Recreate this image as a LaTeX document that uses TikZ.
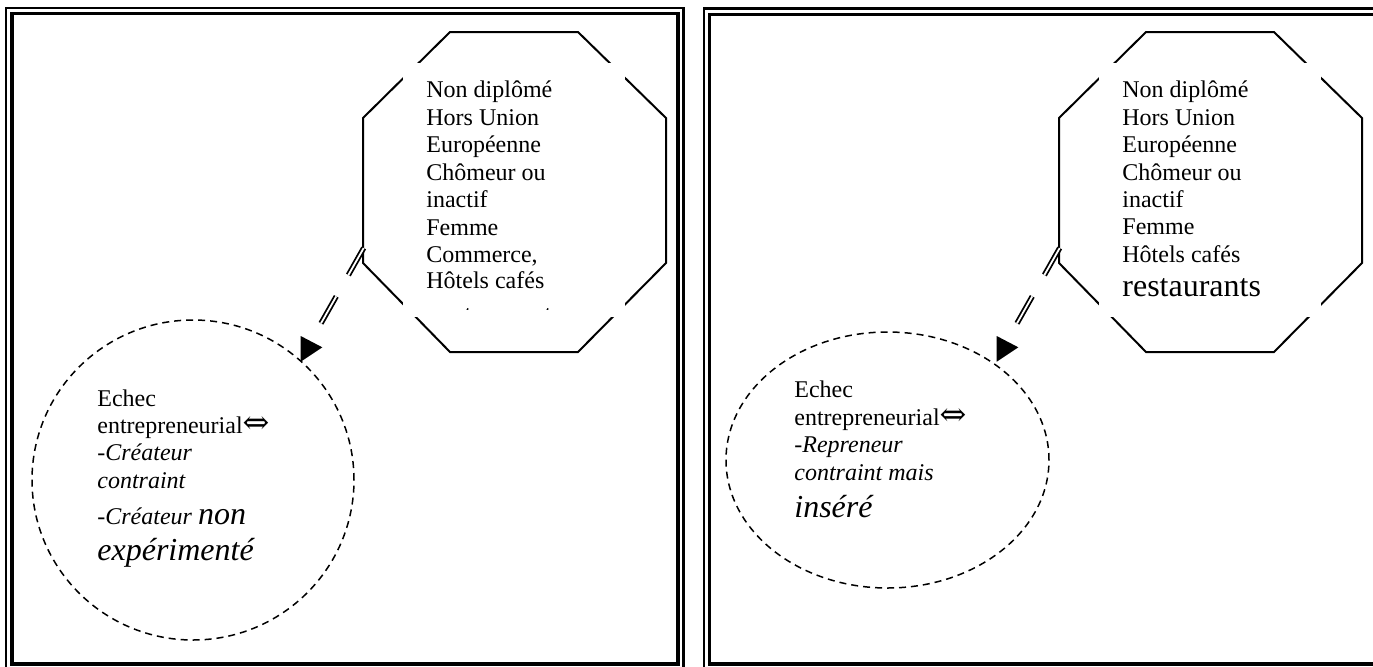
\documentclass[tikz,border=0pt]{standalone}
\usepackage{fontspec}
\setmainfont{Liberation Serif}
\newfontfamily\symf{DejaVu Serif}
\usetikzlibrary{shapes.geometric}
\newcommand\eqvsym{{\symf\fontsize{16}{16}\selectfont ⇔}}
\begin{document}
\begin{tikzpicture}[x=0.5pt,y=-0.5pt,
  frameout/.style={line width=1.1pt},
  framein/.style={line width=1.6pt},
  octa/.style={line width=1pt},
  ln/.style={anchor=base west, inner sep=0pt, font=\fontsize{12}{14}\selectfont},
  lnbig/.style={ln, font=\fontsize{16}{19}\selectfont},
  bubble/.style={draw, ellipse, inner sep=0pt, dash pattern=on 3.5pt off 2.5pt, line width=0.75pt},
  link/.style={draw, double, line width=0.9pt, double distance=0.9pt, dash pattern=on 15.5pt off 12.3pt},
  head/.style={fill=black}
]
\clip (0,0) rectangle (1373,666);
% frames
\draw[frameout] (6,8) rectangle (683.5,670);
\draw[framein] (12,13.8) rectangle (678,664);
\draw[frameout] (704,8.5) rectangle (1381,670);
\draw[framein] (709.5,14.3) rectangle (1376,664);

% ---------- left panel ----------
\draw[octa] (450,32) -- (578,32) -- (666,118) -- (666,263) -- (578,352) -- (450,352) -- (363,263) -- (363,118) -- cycle;
\fill[white] (403,63) rectangle (625,317);
\begin{scope}
\clip (403,63) rectangle (625,309);
\node[ln] (l1) at (426,97) {Non diplômé};
\node[ln] (l2) at (426,125) {Hors Union};
\node[ln] (l3) at (426,152) {Européenne};
\node[ln] (l4) at (426,180) {Chômeur ou};
\node[ln] (l5) at (426,207) {inactif};
\node[ln] (l6) at (426,235) {Femme};
\node[ln] (l7) at (426,262) {Commerce,};
\node[ln] (l8) at (426,288) {Hôtels cafés};
\node[lnbig] (l9) at (426,326) {restaurants};
\end{scope}

\node[bubble, minimum width=161pt, minimum height=160pt] (e1) at (193,480) {};
\node[ln] (m1) at (97,406) {Echec};
\node[ln] (m2) at (97,433) {entrepreneurial\eqvsym};
\node[ln] (m3) at (97,460) {\itshape -Créateur};
\node[ln] (m4) at (97,488) {\itshape contraint};
\node[ln] (m5) at (97,524) {\itshape -Créateur {\fontsize{16}{19}\selectfont non}};
\node[lnbig] (m6) at (97,560) {\itshape expérimenté};

\coordinate (c1s) at (363.7,248);
\coordinate (c1e) at (321,323.3);
\draw[link] (c1s) -- (c1e);
\coordinate (h1a) at (300.7,336);
\coordinate (h1b) at (322.3,347.3);
\coordinate (h1c) at (300.7,361.7);
\fill[head] (h1a) -- (h1b) -- (h1c) -- cycle;

% ---------- right panel ----------
\draw[octa] (1146,32) -- (1274,32) -- (1362,118) -- (1362,263) -- (1274,352) -- (1146,352) -- (1059,263) -- (1059,118) -- cycle;
\fill[white] (1099,63) rectangle (1321,317);
\begin{scope}
\clip (1099,63) rectangle (1321,310);
\node[ln] (r1) at (1122,97) {Non diplômé};
\node[ln] (r2) at (1122,125) {Hors Union};
\node[ln] (r3) at (1122,152) {Européenne};
\node[ln] (r4) at (1122,180) {Chômeur ou};
\node[ln] (r5) at (1122,207) {inactif};
\node[ln] (r6) at (1122,234) {Femme};
\node[ln] (r7) at (1122,262) {Hôtels cafés};
\node[lnbig] (r8) at (1122,296) {restaurants};
\end{scope}

\node[bubble, minimum width=161.5pt, minimum height=128pt] (e2) at (887.5,460) {};
\node[ln] (n1) at (794,397) {Echec};
\node[ln] (n2) at (794,425) {entrepreneurial\eqvsym};
\node[ln] (n3) at (794,452) {\itshape -Repreneur};
\node[ln] (n4) at (794,480) {\itshape contraint mais};
\node[lnbig] (n5) at (794,517) {\itshape inséré};

\coordinate (c2s) at (1059.7,248);
\coordinate (c2e) at (1017,323.3);
\draw[link] (c2s) -- (c2e);
\coordinate (h2a) at (996.7,336);
\coordinate (h2b) at (1018.3,347.3);
\coordinate (h2c) at (996.7,361.7);
\fill[head] (h2a) -- (h2b) -- (h2c) -- cycle;
\end{tikzpicture}
\end{document}
